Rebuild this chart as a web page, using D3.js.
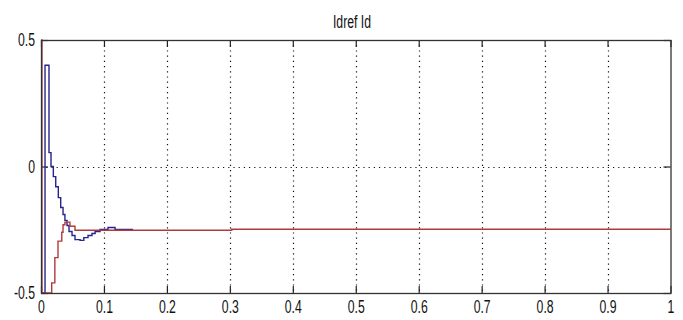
<!DOCTYPE html>
<html>
<head>
<meta charset="utf-8">
<script src="https://cdn.jsdelivr.net/npm/d3@7"></script>
<style>
  html, body { margin: 0; padding: 0; background: #fff; }
  svg { display: block; }
  text { font-family: "Liberation Sans", Arial, sans-serif; fill: #111; }
</style>
</head>
<body>
<svg id="chart" width="683" height="320"></svg>
<script>
// Reference current (Idref), sample-and-hold steps: [time s, value]
const idrefT = [0, 0.0015, 0.017, 0.022, 0.027, 0.033, 0.035, 0.038, 0.046, 0.054, 0.303, 1.0];
const idrefV = [0.5, -0.5, -0.46, -0.36, -0.295, -0.26, -0.23, -0.22, -0.236, -0.252, -0.248, -0.248];

// Measured current (Id)
const idT = [0, 0.0064, 0.0127, 0.0159, 0.0196, 0.0234, 0.0275, 0.0313, 0.035, 0.038, 0.0413, 0.0445,
             0.0493, 0.054, 0.062, 0.068, 0.0747, 0.081, 0.0859, 0.0938, 0.1065, 0.1176, 0.1463];
const idV = [-0.5, 0.40, 0.055, 0.0, -0.04, -0.08, -0.123, -0.162, -0.19, -0.213, -0.233, -0.257,
             -0.273, -0.289, -0.292, -0.281, -0.273, -0.265, -0.257, -0.249, -0.241, -0.249, -0.249];

const xTicks = [0, 0.1, 0.2, 0.3, 0.4, 0.5, 0.6, 0.7, 0.8, 0.9, 1];
const xTickLabels = ["0", "0.1", "0.2", "0.3", "0.4", "0.5", "0.6", "0.7", "0.8", "0.9", "1"];
const yTicks = [-0.5, 0, 0.5];
const yTickLabels = ["-0.5", "0", "0.5"];
const title = "Idref Id";

const W = 683, H = 320;
const margin = { top: 40, right: 12.5, bottom: 27, left: 41 };
const w = W - margin.left - margin.right;
const h = H - margin.top - margin.bottom;

const svg = d3.select("#chart");
const g = svg.append("g").attr("transform", `translate(${margin.left},${margin.top})`);

const x = d3.scaleLinear().domain([0, 1]).range([0, w]);
const y = d3.scaleLinear().domain([-0.5, 0.5]).range([h, 0]);

const narrow = 0.68;   // condensed look for all text
const fs = 18;

// dotted grid
g.append("g").selectAll("line.vg")
  .data(xTicks.slice(1, -1)).join("line")
  .attr("x1", d => Math.round(x(d)) + 0.5).attr("x2", d => Math.round(x(d)) + 0.5)
  .attr("y1", 0).attr("y2", h)
  .attr("stroke", "#111").attr("stroke-width", 1.2).attr("stroke-dasharray", "1.2,4");
g.append("g").selectAll("line.hg")
  .data(yTicks.slice(1, -1)).join("line")
  .attr("x1", 0).attr("x2", w)
  .attr("y1", d => Math.round(y(d)) + 0.5).attr("y2", d => Math.round(y(d)) + 0.5)
  .attr("stroke", "#111").attr("stroke-width", 1.2).attr("stroke-dasharray", "1.2,4");

// axes with inward ticks
const styleAxis = sel => {
  sel.select(".domain").remove();
  sel.selectAll(".tick line").attr("stroke", "#222").attr("stroke-width", 1.2);
};

const xb = g.append("g").attr("transform", `translate(0,${h})`)
  .call(d3.axisBottom(x).tickValues(xTicks).tickSize(-7).tickPadding(7)
    .tickFormat((d, i) => xTickLabels[i]));
styleAxis(xb);
xb.selectAll("text").attr("font-size", fs).attr("transform", `scale(${narrow},1)`);

const xt = g.append("g")
  .call(d3.axisTop(x).tickValues(xTicks).tickSize(-7).tickFormat(""));
styleAxis(xt);

const yl = g.append("g")
  .call(d3.axisLeft(y).tickValues(yTicks).tickSize(-7).tickPadding(8)
    .tickFormat((d, i) => yTickLabels[i]));
styleAxis(yl);
yl.selectAll("text").attr("font-size", fs)
  .attr("x", -6 / narrow).attr("transform", `scale(${narrow},1)`);

const yr = g.append("g").attr("transform", `translate(${w},0)`)
  .call(d3.axisRight(y).tickValues(yTicks).tickSize(-7).tickFormat(""));
styleAxis(yr);

// data lines
const line = (ts, vs) => d3.line()
  .x((d, i) => x(ts[i])).y((d, i) => y(vs[i]))
  .curve(d3.curveStepAfter)(vs);

g.append("path").attr("d", line(idT, idV))
  .attr("fill", "none").attr("stroke", "#25258c").attr("stroke-width", 1.4);
g.append("path").attr("d", line(idrefT, idrefV))
  .attr("fill", "none").attr("stroke", "#b03a3c").attr("stroke-width", 1.4);

// axes box
g.append("rect").attr("x", 0.5).attr("y", 0.5).attr("width", w).attr("height", h)
  .attr("fill", "none").attr("stroke", "#333").attr("stroke-width", 1.3);

// title
svg.append("text")
  .attr("transform", `translate(352,28) scale(${narrow},1)`)
  .attr("text-anchor", "middle").attr("font-size", fs)
  .text(title);
</script>
</body>
</html>
